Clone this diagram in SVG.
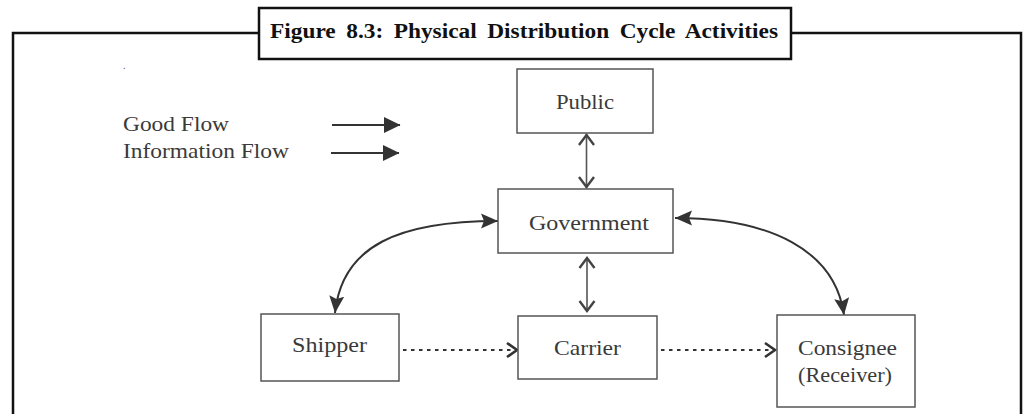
<svg xmlns="http://www.w3.org/2000/svg" width="1029" height="414" viewBox="0 0 1029 414">
<defs>
<style>
.frame{fill:none;stroke:#111;stroke-width:2.5}
.box{fill:#fff;stroke:#555;stroke-width:1.5}
.lbl{font-family:"Liberation Serif","Times New Roman",serif;font-size:21px;fill:#3a3a3a}
.title{font-family:"Liberation Serif","Times New Roman",serif;font-size:20px;font-weight:bold;fill:#111;word-spacing:4px}
.solid{fill:none;stroke:#333;stroke-width:2}
.vert{fill:none;stroke:#555;stroke-width:1.6}
.dot{fill:none;stroke:#333;stroke-width:2;stroke-dasharray:3.5 4.5}
</style>
<marker id="fill" markerUnits="userSpaceOnUse" markerWidth="18" markerHeight="16" viewBox="0 0 18 16" refX="17" refY="8" orient="auto-start-reverse">
<path d="M0,0.5 L17,8 L0,15.5 L3,8 z" fill="#333"/>
</marker>
<marker id="leg" markerUnits="userSpaceOnUse" markerWidth="17" markerHeight="17" viewBox="0 0 17 17" refX="16" refY="8.5" orient="auto">
<path d="M0,0.5 L16.5,8.5 L0,16.5 z" fill="#333"/>
</marker>
<marker id="chev" markerUnits="userSpaceOnUse" markerWidth="20" markerHeight="20" viewBox="0 0 20 20" refX="13" refY="10" orient="auto-start-reverse">
<path d="M2,2.5 L12,10 L2,17.5" fill="none" stroke="#444" stroke-width="2.4"/>
</marker>
<marker id="chev2" markerUnits="userSpaceOnUse" markerWidth="20" markerHeight="20" viewBox="0 0 20 20" refX="13" refY="10" orient="auto">
<path d="M2,3 L12,10 L2,17" fill="none" stroke="#333" stroke-width="2.6"/>
</marker>
</defs>
<rect width="1029" height="414" fill="#fff"/>
<g id="frame">
<rect class="frame" x="13" y="33" width="1008" height="400"/>
<rect x="259" y="8" width="532" height="51" fill="#fff" stroke="#111" stroke-width="2.5"/>
<text class="title" x="270" y="37.5" textLength="508" lengthAdjust="spacingAndGlyphs">Figure 8.3: Physical Distribution Cycle Activities</text>
<text x="123" y="69" font-family="Liberation Serif, serif" font-size="10" fill="#555">.</text>
</g>
<g id="legend">
<text class="lbl" x="123" y="131" textLength="106" lengthAdjust="spacingAndGlyphs">Good Flow</text>
<text class="lbl" x="123" y="158" textLength="166" lengthAdjust="spacingAndGlyphs">Information Flow</text>
<line class="solid" x1="332" y1="125" x2="400" y2="125" marker-end="url(#leg)"/>
<line class="solid" x1="331" y1="153" x2="399" y2="153" marker-end="url(#leg)"/>
</g>
<g id="connectors">
<line class="vert" x1="586.5" y1="134" x2="586.5" y2="188" marker-start="url(#chev)" marker-end="url(#chev)"/>
<line class="vert" x1="587" y1="257" x2="587" y2="312" marker-start="url(#chev)" marker-end="url(#chev)"/>
<path class="solid" d="M335,313 C342,245 400,221 498,221" marker-start="url(#fill)" marker-end="url(#fill)"/>
<path class="solid" d="M675,218 C770,218 835,250 844,315" marker-start="url(#fill)" marker-end="url(#fill)"/>
<line class="dot" x1="403" y1="350" x2="516" y2="350"/>
<line x1="508" y1="350" x2="518" y2="350" stroke="none" marker-end="url(#chev2)"/>
<line class="dot" x1="661" y1="350" x2="774" y2="350"/>
<line x1="766" y1="350" x2="776" y2="350" stroke="none" marker-end="url(#chev2)"/>
</g>
<g id="public">
<rect class="box" x="517" y="69" width="136" height="64"/>
<text class="lbl" x="585" y="109" text-anchor="middle" textLength="58" lengthAdjust="spacingAndGlyphs">Public</text>
</g>
<g id="government">
<rect class="box" x="498" y="189" width="175" height="64"/>
<text class="lbl" x="589" y="230" text-anchor="middle" textLength="120" lengthAdjust="spacingAndGlyphs">Government</text>
</g>
<g id="shipper">
<rect class="box" x="261" y="314" width="138" height="67"/>
<text class="lbl" x="329.5" y="352" text-anchor="middle" textLength="75" lengthAdjust="spacingAndGlyphs">Shipper</text>
</g>
<g id="carrier">
<rect class="box" x="518" y="316" width="139" height="63"/>
<text class="lbl" x="587.5" y="355" text-anchor="middle" textLength="67" lengthAdjust="spacingAndGlyphs">Carrier</text>
</g>
<g id="consignee">
<rect class="box" x="777" y="315" width="138" height="92"/>
<text class="lbl" x="847.5" y="355" text-anchor="middle" textLength="99" lengthAdjust="spacingAndGlyphs">Consignee</text>
<text class="lbl" x="845" y="382" text-anchor="middle" textLength="94" lengthAdjust="spacingAndGlyphs">(Receiver)</text>
</g>
</svg>
